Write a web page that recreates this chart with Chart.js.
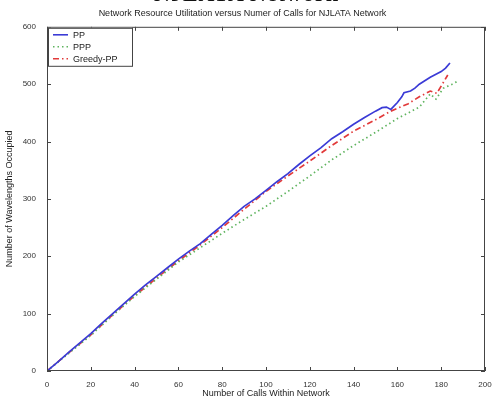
<!DOCTYPE html>
<html>
<head>
<meta charset="utf-8">
<script src="https://cdn.jsdelivr.net/npm/chart.js@4"></script>
<style>
  html, body { margin: 0; padding: 0; background: #fff; overflow: hidden; }
  #wrap { position: relative; width: 493px; height: 403px; }
  #cap { position: absolute; left: 0; width: 493px; top: -19px; text-align: center;
         font: bold 22px "Liberation Serif", serif; color: #111; letter-spacing: 1px; }
</style>
</head>
<body>
<div id="wrap">
  <div id="cap">NJLATA Network</div>
  <canvas id="c" width="493" height="403"></canvas>
</div>
<script>
// number of calls (x) and wavelengths occupied (y) for each scheme
var ppCalls = [0, 5, 10, 15, 20, 25, 30, 35, 40, 45, 50, 55, 60, 65, 70, 75, 80, 85, 90, 95, 100, 105, 110, 115, 120, 125, 130, 135, 140, 145, 150, 153, 155, 157, 160, 162, 163, 166, 168, 170, 175, 180, 182, 184];
var ppUsed  = [0, 16, 33, 49, 65, 83, 100, 117, 134, 150, 165, 180, 195, 209, 222, 238, 254, 271, 287, 300, 315, 330, 344, 360, 375, 389, 405, 417, 430, 442, 453, 459, 460, 456, 468, 478, 485, 488, 493, 500, 512, 522, 528, 537];

var pppCalls = [0, 10, 20, 30, 40, 50, 60, 70, 80, 90, 100, 110, 120, 130, 140, 150, 160, 170, 175, 177.6, 181, 185, 188];
var pppUsed  = [0, 31, 62, 97, 130, 160, 190, 215, 240, 264, 287, 313, 340, 368, 393, 416, 440, 460, 483, 474, 493, 500, 506];

var greedyCalls = [0, 10, 20, 30, 40, 50, 60, 70, 80, 90, 100, 110, 120, 130, 140, 150, 157, 165, 170, 175, 178, 183];
var greedyUsed  = [0, 32, 63, 98, 131, 162, 192, 220, 250, 282, 313, 340, 366, 393, 418, 438, 453, 466, 478, 488, 484, 516];

var xTicks = [0, 20, 40, 60, 80, 100, 120, 140, 160, 180, 200];
var yTicks = [0, 100, 200, 300, 400, 500, 600];

function pts(xs, ys) {
  return xs.map(function (x, i) { return { x: x, y: ys[i] }; });
}

var series = [
  { label: 'PP', color: '#3b3bd6', dash: [], width: 1.7, data: pts(ppCalls, ppUsed) },
  { label: 'PPP', color: '#5fb45f', dash: [1.5, 3], width: 1.7, data: pts(pppCalls, pppUsed) },
  { label: 'Greedy-PP', color: '#e23a3a', dash: [6, 3, 1.5, 3], width: 1.7, data: pts(greedyCalls, greedyUsed) }
];

// matlab style box, inward ticks and legend
var boxPlugin = {
  id: 'box',
  afterDraw: function (chart) {
    var ctx = chart.ctx, a = chart.chartArea;
    var xs = chart.scales.x, ys = chart.scales.y;
    ctx.save();
    ctx.strokeStyle = '#444';
    ctx.lineWidth = 1;
    ctx.setLineDash([]);
    ctx.strokeRect(a.left + 0.5, a.top + 0.5, a.right - a.left - 1, a.bottom - a.top - 1);
    ctx.beginPath();
    xTicks.forEach(function (t) {
      var px = Math.round(xs.getPixelForValue(t)) + 0.5;
      ctx.moveTo(px, a.bottom); ctx.lineTo(px, a.bottom - 4);
      ctx.moveTo(px, a.top); ctx.lineTo(px, a.top + 4);
    });
    yTicks.forEach(function (t) {
      var py = Math.round(ys.getPixelForValue(t)) + 0.5;
      ctx.moveTo(a.left, py); ctx.lineTo(a.left + 4, py);
      ctx.moveTo(a.right, py); ctx.lineTo(a.right - 4, py);
    });
    ctx.stroke();

    // legend
    var lx = a.left + 1, ly = a.top + 1, lw = 84, lh = 38;
    ctx.fillStyle = '#fff';
    ctx.fillRect(lx, ly, lw, lh);
    ctx.strokeStyle = '#444';
    ctx.strokeRect(lx + 0.5, ly + 0.5, lw, lh);
    ctx.font = '9px "Liberation Sans", Arial, sans-serif';
    ctx.textBaseline = 'middle';
    series.forEach(function (s, i) {
      var y = ly + 7 + i * 12;
      ctx.strokeStyle = s.color;
      ctx.lineWidth = 1.6;
      ctx.setLineDash(s.dash);
      ctx.beginPath();
      ctx.moveTo(lx + 5, y); ctx.lineTo(lx + 20, y);
      ctx.stroke();
      ctx.setLineDash([]);
      ctx.fillStyle = '#222';
      ctx.fillText(s.label, lx + 25, y + 0.5);
    });
    ctx.restore();
  }
};

var ctx = document.getElementById('c').getContext('2d');
var chart = new Chart(ctx, {
  type: 'scatter',
  data: {
    datasets: series.map(function (s) {
      return {
        label: s.label,
        data: s.data,
        showLine: true,
        borderColor: s.color,
        borderWidth: s.width,
        borderDash: s.dash,
        pointRadius: 0,
        tension: 0,
        fill: false
      };
    })
  },
  options: {
    responsive: false,
    animation: false,
    layout: { padding: { top: 3, right: 8, left: 0, bottom: 0 } },
    plugins: {
      legend: { display: false },
      tooltip: { enabled: false },
      title: {
        display: true,
        text: 'Network Resource Utilitation versus Numer of Calls for NJLATA Network',
        color: '#222',
        font: { size: 9, family: '"Liberation Sans", Arial, sans-serif', weight: 'normal' },
        padding: { top: 5, bottom: 8 }
      }
    },
    scales: {
      x: {
        type: 'linear',
        min: 0, max: 200,
        afterBuildTicks: function (s) { s.ticks = xTicks.map(function (v) { return { value: v }; }); },
        grid: { display: false },
        border: { display: false },
        ticks: { color: '#333', font: { size: 8, family: '"Liberation Sans", Arial, sans-serif' }, padding: 1, maxRotation: 0 },
        title: { display: true, text: 'Number of Calls Within Network', color: '#222',
                 font: { size: 9, family: '"Liberation Sans", Arial, sans-serif' }, padding: { top: 4 } },
        afterFit: function (s) { s.height = 32; }
      },
      y: {
        type: 'linear',
        min: 0, max: 600,
        afterBuildTicks: function (s) { s.ticks = yTicks.map(function (v) { return { value: v }; }); },
        grid: { display: false },
        border: { display: false },
        ticks: { color: '#333', font: { size: 8, family: '"Liberation Sans", Arial, sans-serif' }, padding: 3 },
        title: { display: true, text: 'Number of Wavelengths Occupied', color: '#222',
                 font: { size: 9, family: '"Liberation Sans", Arial, sans-serif' }, padding: { bottom: 6 } },
        afterFit: function (s) { s.width = 47; }
      }
    }
  },
  plugins: [boxPlugin]
});
</script>
</body>
</html>
